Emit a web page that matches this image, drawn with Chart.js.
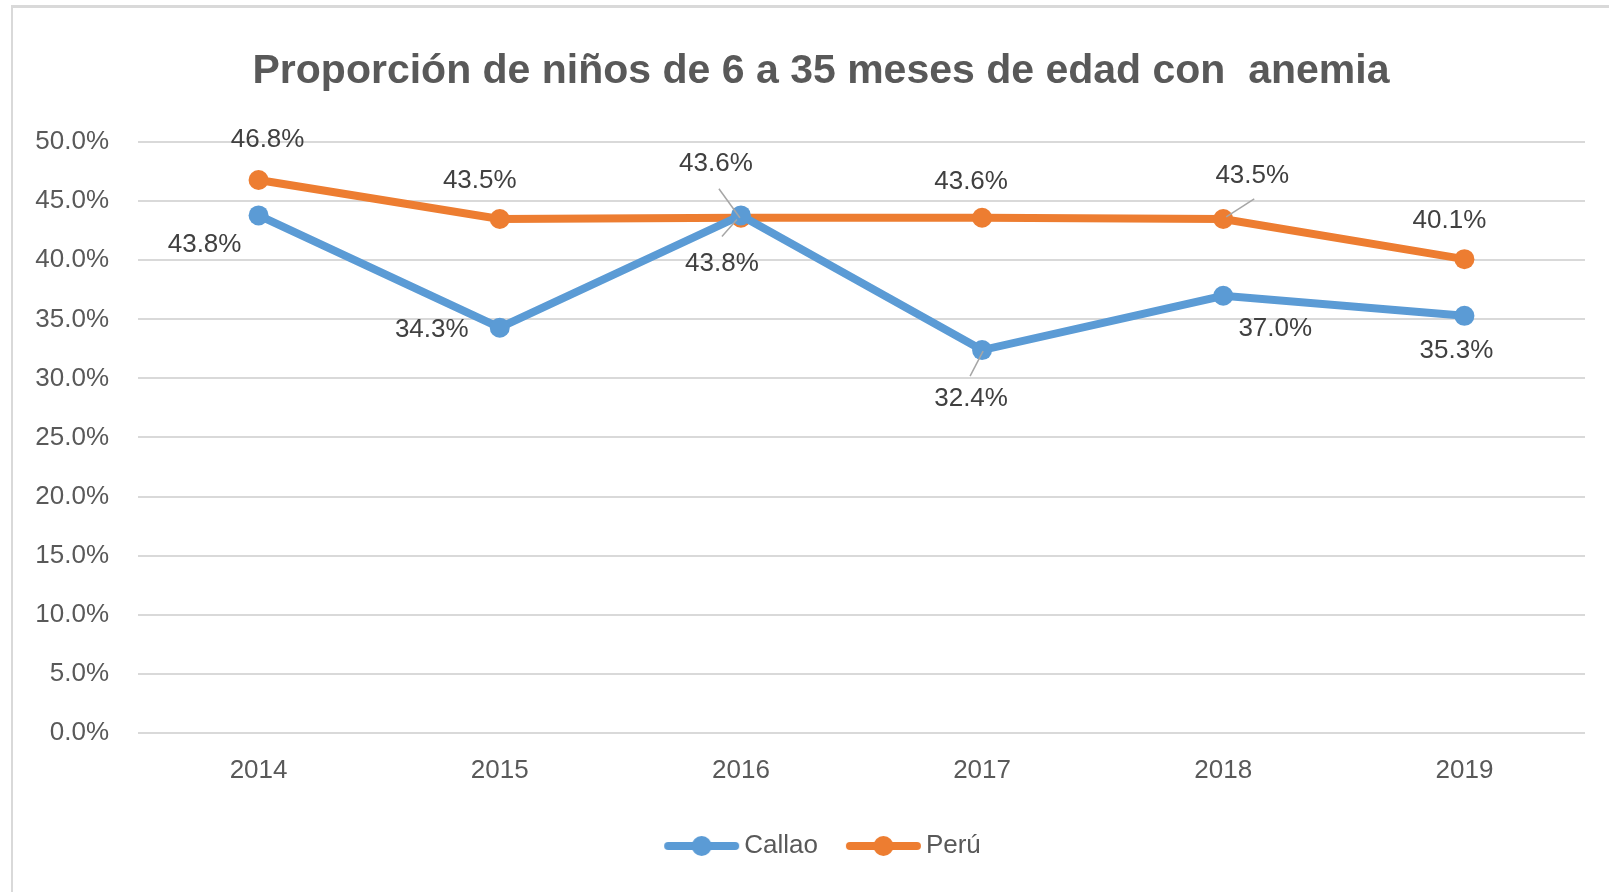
<!DOCTYPE html>
<html>
<head>
<meta charset="utf-8">
<script src="https://cdn.jsdelivr.net/npm/chart.js@4"></script>
<style>
  html, body { margin: 0; padding: 0; background: #fff; }
  #wrap { position: relative; width: 1609px; height: 892px; overflow: hidden; }
  #frame { position: absolute; left: 11px; top: 5px; width: 1640px; height: 920px; border: 2px solid #d9d9d9; border-top-width: 3px; box-sizing: border-box; }
  canvas { position: absolute; left: 0; top: 0; }
</style>
</head>
<body>
<div id="wrap">
  <div id="frame"></div>
  <canvas id="chart" width="1640" height="892"></canvas>
</div>
<script>
const years = ['2014', '2015', '2016', '2017', '2018', '2019'];
const callao = [43.8, 34.3, 43.8, 32.4, 37.0, 35.3];
const peru = [46.8, 43.5, 43.6, 43.6, 43.5, 40.1];
const seriesNames = ['Callao', 'Perú'];
const seriesColors = ['#5b9bd5', '#ed7d31'];

const FONT = "'Liberation Sans Narrow', 'Arial Narrow', 'Liberation Sans', sans-serif";

// where each data label sits relative to its point, per series
const labelOffsets = [
  [[-54, 29], [-68, 2], [-19, 48], [-11, 49], [52, 33], [-8, 35]],
  [[9, -40], [-20, -38], [-25, -54], [-11, -36], [29, -43], [-15, -38]]
];
// leader lines: [series, index, x1, y1, x2, y2] relative to point
const leaders = [
  [1, 2, -22, -29, -1, 0],
  [0, 2, -19, 21, -4, 4],
  [0, 3, -12, 26, 1, 1],
  [1, 4, 31, -20, 3, -2]
];

const dataLabels = {
  id: 'dataLabels',
  afterDatasetsDraw(chart) {
    const ctx = chart.ctx;
    ctx.save();
    ctx.strokeStyle = '#a6a6a6';
    ctx.lineWidth = 1.5;
    leaders.forEach(([s, i, x1, y1, x2, y2]) => {
      const p = chart.getDatasetMeta(s).data[i];
      ctx.beginPath();
      ctx.moveTo(p.x + x1, p.y + y1);
      ctx.lineTo(p.x + x2, p.y + y2);
      ctx.stroke();
    });
    ctx.font = '26px ' + FONT;
    ctx.fillStyle = '#404040';
    ctx.textAlign = 'center';
    ctx.textBaseline = 'middle';
    chart.data.datasets.forEach((ds, s) => {
      chart.getDatasetMeta(s).data.forEach((p, i) => {
        const [dx, dy] = labelOffsets[s][i];
        ctx.fillText(ds.data[i].toFixed(1) + '%', p.x + dx, p.y + dy);
      });
    });
    ctx.restore();
  }
};

// legend marker: line with a dot in the middle
function legendIcon(color) {
  const c = document.createElement('canvas');
  c.width = 90;
  c.height = 24;
  const g = c.getContext('2d');
  g.strokeStyle = color;
  g.lineWidth = 8;
  g.lineCap = 'round';
  g.beginPath();
  g.moveTo(17, 12);
  g.lineTo(84, 12);
  g.stroke();
  g.fillStyle = color;
  g.beginPath();
  g.arc(50.5, 12, 10, 0, Math.PI * 2);
  g.fill();
  return c;
}

new Chart(document.getElementById('chart'), {
  type: 'line',
  data: {
    labels: years,
    datasets: [
      { label: seriesNames[0], data: callao },
      { label: seriesNames[1], data: peru }
    ].map((d, i) => Object.assign(d, {
      borderColor: seriesColors[i],
      backgroundColor: seriesColors[i],
      borderWidth: 8,
      pointRadius: 10,
      pointHoverRadius: 10,
      pointBorderWidth: 0,
      tension: 0
    }))
  },
  options: {
    responsive: false,
    animation: false,
    layout: { padding: { left: 12, right: 10, top: 10, bottom: 23 } },
    plugins: {
      title: {
        display: true,
        text: 'Proporción de niños de 6 a 35 meses de edad con  anemia',
        color: '#595959',
        font: { family: FONT, size: 41, weight: 'bold' },
        padding: { top: 37, bottom: 46 }
      },
      legend: {
        position: 'bottom',
        labels: {
          usePointStyle: true,
          pointStyleWidth: 70,
          padding: 25,
          color: '#595959',
          font: { family: FONT, size: 26 },
          generateLabels(chart) {
            const items = Chart.defaults.plugins.legend.labels.generateLabels(chart);
            items.forEach((it, i) => { it.pointStyle = legendIcon(seriesColors[i]); });
            return items;
          }
        }
      },
      tooltip: { enabled: false }
    },
    scales: {
      x: {
        offset: true,
        grid: { display: false, drawTicks: false },
        border: { display: false },
        ticks: { color: '#595959', font: { family: FONT, size: 26 }, padding: 22 }
      },
      y: {
        min: 0,
        max: 50,
        afterFit(axis) { axis.width = 126; },
        grid: { color: '#d9d9d9', lineWidth: 2, drawTicks: false },
        border: { display: false },
        ticks: {
          stepSize: 5,
          padding: 29,
          color: '#595959',
          font: { family: FONT, size: 26 },
          callback: v => v.toFixed(1) + '%'
        }
      },
      // empty right-hand spacer so the plot ends where the reference's does
      y2: {
        position: 'right',
        afterFit(axis) { axis.width = 45; },
        grid: { display: false, drawTicks: false },
        border: { display: false },
        ticks: { display: false }
      }
    }
  },
  plugins: [dataLabels]
});
</script>
</body>
</html>
